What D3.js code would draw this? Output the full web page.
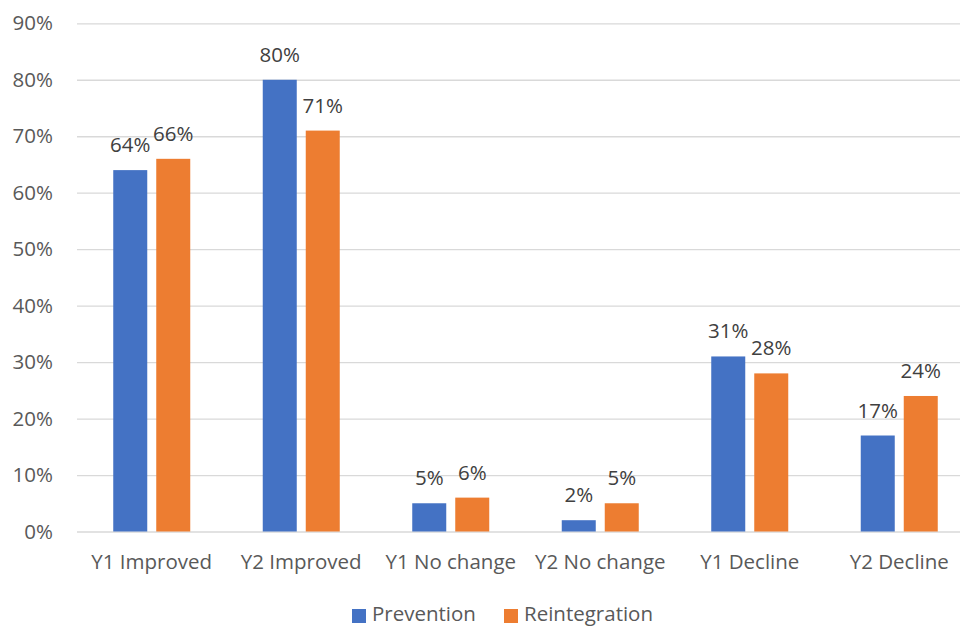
<!DOCTYPE html>
<html>
<head>
<meta charset="utf-8">
<script src="https://cdn.jsdelivr.net/npm/d3@7"></script>
<style>
  html, body { margin: 0; padding: 0; background: #fff; }
  svg { display: block; font-family: "Open Sans", "Noto Sans", sans-serif; }
</style>
</head>
<body>
<svg id="chart" width="960" height="626"></svg>
<script>
// Outcome categories and the share of participants in each, per programme
const categories = ["Y1 Improved", "Y2 Improved", "Y1 No change", "Y2 No change", "Y1 Decline", "Y2 Decline"];
const seriesNames = ["Prevention", "Reintegration"];
const prevention = [0.64, 0.80, 0.05, 0.02, 0.31, 0.17];
const reintegration = [0.66, 0.71, 0.06, 0.05, 0.28, 0.24];
const yTicks = [0, 0.1, 0.2, 0.3, 0.4, 0.5, 0.6, 0.7, 0.8, 0.9];
const colors = ["#4472C4", "#ED7D31"];

const seriesValues = [prevention, reintegration];

const W = 960, H = 626;
const plotLeft = 77, plotRight = 974, plotTop = 23.3, plotBottom = 531.5;
const fontSize = "20.5px";

const svg = d3.select("#chart");

const x0 = d3.scaleBand().domain(categories).range([plotLeft, plotRight]).padding(0);
const step = x0.bandwidth();
const x1 = d3.scaleBand().domain(seriesNames)
  .range([step / 2 - 38.5, step / 2 + 38.5])
  .paddingInner(9 / 43).paddingOuter(0);
const y = d3.scaleLinear().domain([0, 0.9]).range([plotBottom, plotTop]);
const color = d3.scaleOrdinal().domain(seriesNames).range(colors);
const pct = d3.format(".0%");

// Gridlines and value axis
const yAxis = d3.axisLeft(y)
  .tickValues(yTicks)
  .tickFormat(pct)
  .tickSize(-(W - plotLeft))
  .tickPadding(24);

const gy = svg.append("g")
  .attr("transform", `translate(${plotLeft},0)`)
  .call(yAxis);
gy.select(".domain").remove();
gy.selectAll(".tick line").attr("stroke", "#d9d9d9").attr("stroke-width", 1.3);
gy.selectAll(".tick text")
  .attr("fill", "#595959")
  .style("font-size", fontSize)
  .style("font-family", "'Open Sans', 'Noto Sans', sans-serif");

// Bars
const rows = categories.map((c, i) => ({
  category: c,
  values: seriesNames.map((s, k) => ({ series: s, value: seriesValues[k][i] }))
}));

const groups = svg.append("g").selectAll("g")
  .data(rows)
  .join("g")
  .attr("transform", d => `translate(${x0(d.category)},0)`);

groups.selectAll("rect")
  .data(d => d.values)
  .join("rect")
  .attr("x", d => x1(d.series))
  .attr("width", x1.bandwidth())
  .attr("y", d => y(d.value))
  .attr("height", d => y(0) - y(d.value))
  .attr("fill", d => color(d.series));

// Value labels
groups.selectAll("text")
  .data(d => d.values)
  .join("text")
  .attr("x", d => x1(d.series) + x1.bandwidth() / 2)
  .attr("y", d => y(d.value) - 18)
  .attr("text-anchor", "middle")
  .attr("fill", "#404040")
  .style("font-size", fontSize)
  .text(d => pct(d.value));

// Category labels
svg.append("g").selectAll("text")
  .data(categories)
  .join("text")
  .attr("x", d => x0(d) + step / 2)
  .attr("y", 569)
  .attr("text-anchor", "middle")
  .attr("fill", "#595959")
  .style("font-size", fontSize)
  .text(d => d);

// Legend
const legend = svg.append("g");
const legendItems = [
  { name: seriesNames[0], x: 352 },
  { name: seriesNames[1], x: 504 }
];
legendItems.forEach(item => {
  legend.append("rect")
    .attr("x", item.x).attr("y", 609)
    .attr("width", 14).attr("height", 14)
    .attr("fill", color(item.name));
  legend.append("text")
    .attr("x", item.x + 20).attr("y", 621)
    .attr("fill", "#595959")
    .style("font-size", fontSize)
    .text(item.name);
});
</script>
</body>
</html>
